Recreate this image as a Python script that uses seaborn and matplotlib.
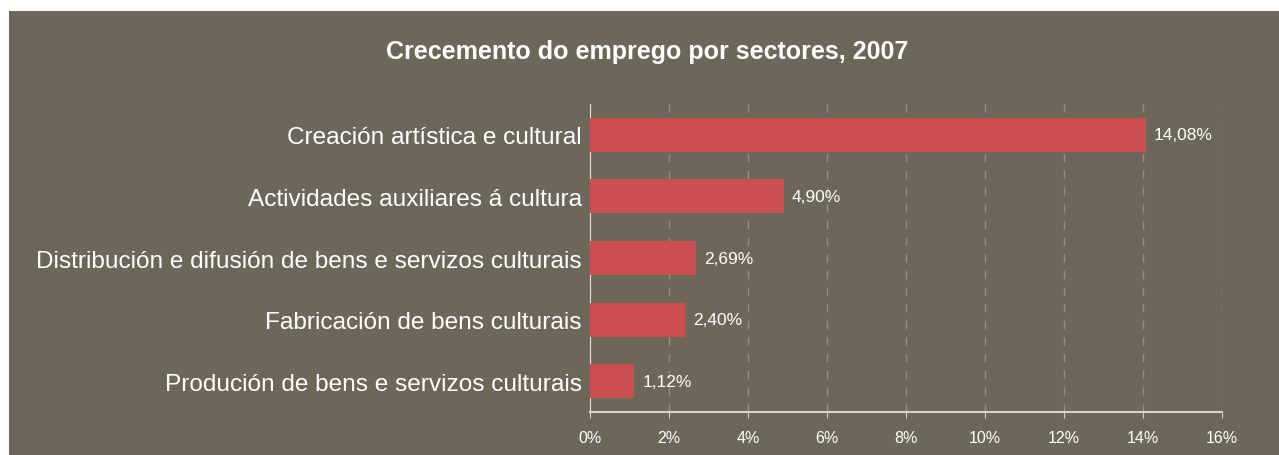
import seaborn as sns
import pandas as pd
from matplotlib import pyplot as plt
from matplotlib.patches import Rectangle

sectores = [
    "Creación artística e cultural",
    "Actividades auxiliares á cultura",
    "Distribución e difusión de bens e servizos culturais",
    "Fabricación de bens culturais",
    "Produción de bens e servizos culturais",
]
crecemento = [14.08, 4.90, 2.69, 2.40, 1.12]
etiquetas = ["14,08%", "4,90%", "2,69%", "2,40%", "1,12%"]
ticks = [0, 2, 4, 6, 8, 10, 12, 14, 16]

bg = "#6d675a"
sns.set_style("dark")
plt.rcParams['font.family'] = ['Liberation Sans Narrow', 'Liberation Sans', 'DejaVu Sans']

df = pd.DataFrame({"sector": sectores, "valor": crecemento})

fig = plt.figure(figsize=(12.79, 4.56), dpi=100, facecolor="white")
fig.patches.append(Rectangle((9 / 1279, 0), 1, 1 - 12 / 456, transform=fig.transFigure,
                             facecolor=bg, edgecolor="none", zorder=-10))
ax = fig.add_axes([590 / 1279, 43 / 456, 632 / 1279, 308 / 456])
ax.set_facecolor(bg)

sns.barplot(data=df, x="valor", y="sector", color="#cc4e4e", width=0.55,
            saturation=1, ax=ax, zorder=3, edgecolor="none", linewidth=0)

for i, (v, t) in enumerate(zip(crecemento, etiquetas)):
    ax.text(v + 0.2, i, t, va="center", ha="left", color="white", fontsize=12.5,
            family=['Liberation Sans', 'DejaVu Sans'])

ax.set_xlim(0, 16)
ax.set_ylim(4.5, -0.5)
ax.set_xticks(ticks)
ax.set_xticklabels([f"{t}%" for t in ticks], family=['Liberation Sans', 'DejaVu Sans'])
ax.tick_params(axis="x", colors="#d8d4cc", labelcolor="white", labelsize=11.5, length=4,
               direction="out", bottom=True, pad=9)
ax.tick_params(axis="y", labelcolor="white", labelsize=17.6, length=0, pad=6)
ax.grid(axis="x", color="#958f83", linestyle=(0, (6, 6)), linewidth=1, zorder=0)
ax.grid(axis="y", visible=False)
ax.set_xlabel("")
ax.set_ylabel("")
for s in ["top", "right"]:
    ax.spines[s].set_visible(False)
ax.spines["left"].set_color("#e6e2da")
ax.spines["bottom"].set_color("#d8d4cc")
ax.spines["bottom"].set_linewidth(1.5)

fig.text(0.506, 1 - 52 / 456, "Crecemento do emprego por sectores, 2007", ha="center",
         va="center", color="white", fontsize=18, fontweight="bold")

plt.savefig("out.png", dpi=100, facecolor="white")
